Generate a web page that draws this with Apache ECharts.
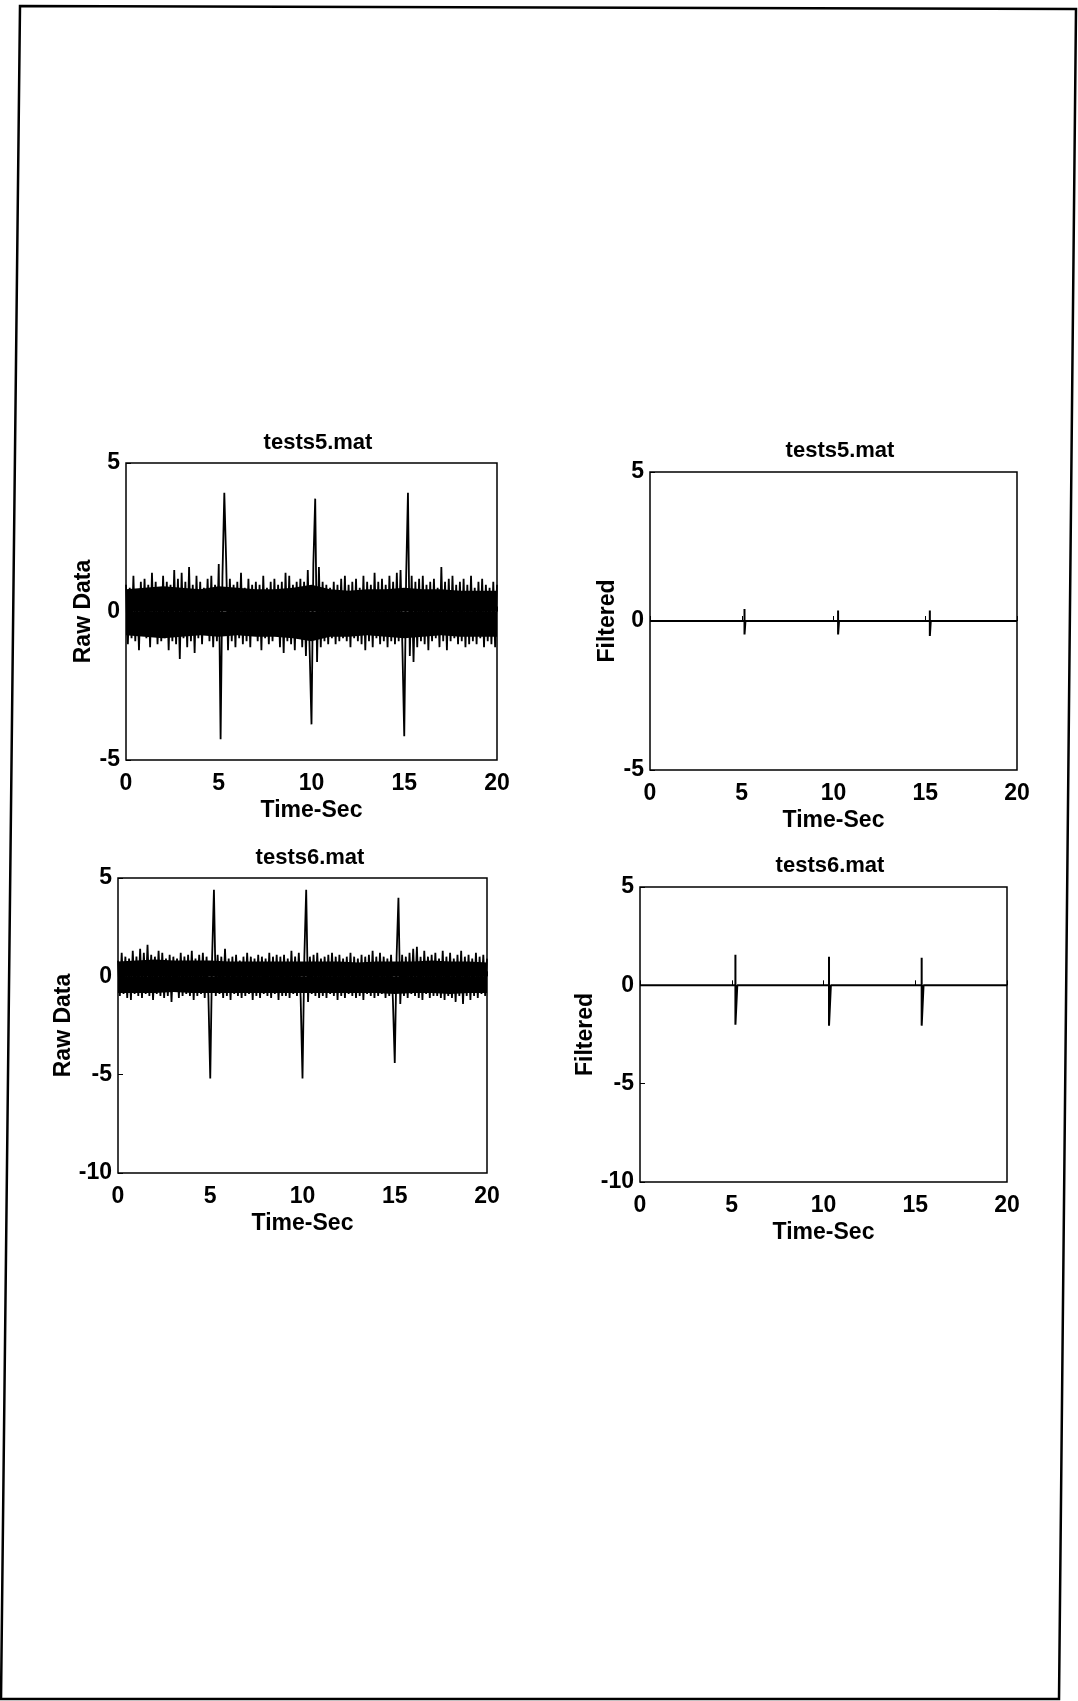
<!DOCTYPE html>
<html>
<head>
<meta charset="utf-8">
<title>tests5.mat / tests6.mat</title>
<script src="https://cdn.jsdelivr.net/npm/echarts@6/dist/echarts.min.js"></script>
<style>
    html, body { margin: 0; padding: 0; background: #fff; }
    #main { width: 1078px; height: 1701px; }
</style>
</head>
<body>
<div id="main"></div>
<script>
// raw samples are every 0.1 s from 0 to 20 s
var sampleStep = 0.1;
// envelope of the solid noise band, every 1 s
var bandStep = 1;

// tests5.mat raw data
var raw5 = [
    0.9, -1.1, 0.8, -0.9, 1.2, -1.0, 0.7, -1.3, 1.0, -0.8,
    1.1, -0.9, 0.9, -1.2, 1.3, -0.8, 1.0, -1.1, 0.8, -1.0,
    1.2, -0.9, 1.0, -1.3, 0.9, -1.0, 1.4, -1.1, 1.1, -1.6,
    1.3, -0.9, 1.0, -1.2, 1.5, -1.0, 0.9, -1.4, 1.2, -0.9,
    1.0, -1.1, 0.8, -0.6, 1.1, -1.0, 1.2, -1.2, 0.9, -1.0,
    1.6, -4.3, 1.2, 4.0, 1.7, -1.3, 1.1, -1.0, 0.9, -1.2,
    1.0, -0.9, 1.3, -1.1, 0.8, -1.0, 1.1, -1.2, 0.9, -0.8,
    1.0, -1.0, 0.9, -1.3, 1.2, -0.9, 0.8, -1.1, 1.0, -1.0,
    1.1, -0.8, 0.9, -1.2, 1.0, -1.4, 1.3, -1.0, 1.2, -1.1,
    0.9, -1.3, 1.0, -0.9, 1.1, -1.2, 1.0, -1.5, 1.4, -1.3,
    -3.8, 1.6, 3.8, -1.7, 1.5, -1.2, 1.0, -1.0, 0.9, -1.1,
    0.8, -0.9, 1.0, -1.1, 0.9, -1.0, 1.1, -0.9, 1.2, -1.0,
    0.9, -1.2, 1.0, -0.9, 1.1, -1.0, 0.8, -1.1, 1.2, -1.3,
    1.0, -1.0, 0.9, -1.2, 1.3, -0.9, 1.0, -1.1, 1.1, -1.0,
    0.9, -1.2, 1.2, -1.0, 1.0, -1.1, 1.3, -1.0, 1.4, -1.2,
    -4.2, 1.1, 4.0, -1.5, 1.2, -1.7, 1.0, -1.2, 1.1, -1.0,
    1.2, -1.1, 0.9, -1.3, 1.0, -1.0, 1.1, -0.9, 0.8, -1.2,
    1.5, -1.0, 1.0, -1.3, 1.1, -1.0, 1.2, -0.9, 0.9, -1.1,
    1.0, -1.0, 1.1, -1.2, 0.9, -1.1, 1.2, -1.0, 0.8, -1.1,
    1.0, -0.9, 1.1, -1.2, 0.9, -1.0, 0.8, -1.1, 1.0, -1.2,
    0.9
];
var band5Top    = [0.75, 0.8, 0.85, 0.8, 0.75, 0.85, 0.8, 0.75, 0.75, 0.8, 0.9, 0.75, 0.7, 0.75, 0.75, 0.8, 0.75, 0.75, 0.7, 0.7, 0.7];
var band5Bottom = [-0.8, -0.85, -0.9, -0.85, -0.8, -0.85, -0.8, -0.85, -0.85, -0.9, -1.0, -0.85, -0.85, -0.8, -0.85, -0.9, -0.85, -0.8, -0.85, -0.85, -0.85];

// tests6.mat raw data
var raw6 = [
    0.8, -1.0, 1.2, -0.9, 1.0, -1.1, 0.9, -1.2, 1.3, -0.9,
    1.0, -1.0, 1.4, -1.1, 1.2, -0.9, 1.6, -1.0, 1.1, -1.2,
    1.0, -0.9, 1.3, -1.0, 1.2, -1.1, 0.9, -1.0, 1.1, -1.3,
    1.0, -0.8, 0.9, -1.1, 1.2, -1.0, 1.0, -0.9, 1.1, -1.0,
    1.3, -1.2, 0.9, -1.0, 1.1, -0.9, 1.2, -1.1, 1.0, -1.0,
    -5.2, 0.9, 4.4, -1.0, 1.1, -0.9, 1.0, -1.1, 1.4, -1.0,
    0.9, -1.2, 1.0, -0.9, 1.1, -1.0, 0.8, -1.1, 1.0, -1.0,
    1.2, -0.9, 1.0, -1.2, 0.9, -1.0, 1.1, -1.1, 1.0, -0.9,
    0.9, -1.0, 1.2, -1.1, 1.0, -0.9, 1.1, -1.2, 1.0, -1.0,
    1.1, -1.0, 0.9, -1.1, 1.3, -0.9, 1.0, -1.0, 1.2, -1.1,
    -5.2, 1.0, 4.4, -1.3, 1.0, -0.9, 1.1, -1.0, 1.2, -1.1,
    0.9, -1.0, 1.0, -1.1, 1.1, -0.9, 1.2, -1.0, 1.0, -1.2,
    1.1, -1.0, 0.9, -1.1, 1.0, -0.9, 1.2, -1.0, 1.0, -1.1,
    0.9, -1.0, 1.1, -1.2, 1.0, -0.9, 1.1, -1.0, 1.3, -1.1,
    1.0, -1.0, 1.2, -0.9, 1.0, -1.1, 0.9, -1.0, 1.1, -1.2,
    -4.4, 1.0, 4.0, -1.4, 1.1, -1.0, 1.0, -1.1, 1.2, -0.9,
    1.4, -1.0, 1.5, -1.1, 1.0, -1.2, 1.3, -0.9, 1.0, -1.1,
    1.1, -1.0, 1.2, -1.0, 0.9, -1.1, 1.3, -1.2, 1.0, -1.0,
    1.2, -1.1, 0.9, -1.3, 1.1, -1.0, 1.3, -1.4, 1.0, -1.0,
    1.1, -1.2, 0.9, -1.0, 1.2, -1.1, 1.0, -0.9, 1.1, -1.0,
    0.9
];
var band6Top    = [0.75, 0.8, 0.85, 0.8, 0.8, 0.8, 0.75, 0.75, 0.75, 0.75, 0.75, 0.75, 0.75, 0.7, 0.75, 0.75, 0.75, 0.8, 0.75, 0.75, 0.7];
var band6Bottom = [-0.85, -0.85, -0.85, -0.8, -0.85, -0.85, -0.85, -0.85, -0.85, -0.85, -0.85, -0.85, -0.85, -0.85, -0.85, -0.9, -0.85, -0.85, -0.9, -0.85, -0.85];

// filtered traces: flat line with short spikes
var filt5Time = [0, 5.15, 5.15, 5.15, 5.2, 10.25, 10.25, 10.25, 10.3, 15.25, 15.25, 15.25, 15.3, 20];
var filt5Val  = [0, 0, 0.4, -0.45, 0, 0, 0.35, -0.45, 0, 0, 0.35, -0.5, 0, 0];

var filt6Time = [0, 5.2, 5.2, 5.2, 5.3, 10.3, 10.3, 10.3, 10.4, 15.35, 15.35, 15.35, 15.45, 20];
var filt6Val  = [0, 0, 1.55, -2.0, 0, 0, 1.45, -2.05, 0, 0, 1.4, -2.05, 0, 0];

var family = '"Liberation Sans", Arial, sans-serif';
var labelFont = { fontFamily: family, fontWeight: 'bold', fontSize: 23, color: '#000' };
var titleFont = { fontFamily: family, fontWeight: 'bold', fontSize: 22, color: '#000' };

function sampled(vals, step) {
    return vals.map(function (v, i) { return [+(i * step).toFixed(2), v]; });
}
function paired(ts, vs) {
    return ts.map(function (t, i) { return [t, vs[i]]; });
}

function xAxisAt(idx) {
    return {
        type: 'value', gridIndex: idx, min: 0, max: 20, interval: 5,
        name: 'Time-Sec', nameLocation: 'middle', nameGap: 39,
        nameTextStyle: labelFont,
        axisLine: { show: false },
        axisTick: { show: true, inside: true, length: 5, lineStyle: { color: '#000' } },
        axisLabel: Object.assign({ margin: 12 }, labelFont),
        splitLine: { show: false }
    };
}
function yAxisAt(idx, min, name, gap) {
    return {
        type: 'value', gridIndex: idx, min: min, max: 5, interval: 5,
        name: name, nameLocation: 'middle', nameGap: gap, nameRotate: 90,
        nameTextStyle: labelFont,
        axisLine: { show: false },
        axisTick: { show: true, inside: true, length: 5, lineStyle: { color: '#000' } },
        axisLabel: Object.assign({ margin: 6 }, labelFont),
        splitLine: { show: false }
    };
}
function gridAt(l, t, w, h) {
    return { left: l, top: t, width: w, height: h, show: true, borderColor: '#000', borderWidth: 1.5, backgroundColor: 'transparent' };
}
function titleAt(text, x, y) {
    return { text: text, left: x, top: y, textAlign: 'center', textStyle: titleFont };
}
function lineAt(idx, data, w) {
    return {
        type: 'line', xAxisIndex: idx, yAxisIndex: idx, data: data,
        showSymbol: false, symbol: 'none', animation: false,
        lineStyle: { color: '#000', width: w, join: 'bevel' }
    };
}
// solid part of the noise band: filled from zero out to the envelope
function bandAt(idx, data) {
    return {
        type: 'line', xAxisIndex: idx, yAxisIndex: idx, data: data,
        showSymbol: false, symbol: 'none', animation: false,
        lineStyle: { width: 0 },
        areaStyle: { color: '#000', opacity: 1, origin: 0 }
    };
}

var chart = echarts.init(document.getElementById('main'));
chart.setOption({
    backgroundColor: '#fff',
    animation: false,
    title: [
        titleAt('tests5.mat', 313, 427),
        titleAt('tests5.mat', 835, 435),
        titleAt('tests6.mat', 305, 842),
        titleAt('tests6.mat', 825, 850)
    ],
    grid: [
        gridAt(126, 463, 371, 297),
        gridAt(650, 472, 367, 298),
        gridAt(118, 878, 369, 295),
        gridAt(640, 887, 367, 295)
    ],
    xAxis: [xAxisAt(0), xAxisAt(1), xAxisAt(2), xAxisAt(3)],
    yAxis: [
        yAxisAt(0, -5, 'Raw Data', 26),
        yAxisAt(1, -5, 'Filtered', 26),
        yAxisAt(2, -10, 'Raw Data', 42),
        yAxisAt(3, -10, 'Filtered', 42)
    ],
    series: [
        bandAt(0, sampled(band5Top, bandStep)),
        bandAt(0, sampled(band5Bottom, bandStep)),
        lineAt(0, sampled(raw5, sampleStep), 1.8),
        lineAt(1, paired(filt5Time, filt5Val), 2),
        bandAt(2, sampled(band6Top, bandStep)),
        bandAt(2, sampled(band6Bottom, bandStep)),
        lineAt(2, sampled(raw6, sampleStep), 1.8),
        lineAt(3, paired(filt6Time, filt6Val), 2)
    ],
    graphic: [{
        type: 'polygon',
        shape: { points: [[20, 6], [1076, 9], [1059, 1699], [1, 1699]] },
        style: { fill: 'none', stroke: '#000', lineWidth: 2.5 }
    }]
});
</script>
</body>
</html>
